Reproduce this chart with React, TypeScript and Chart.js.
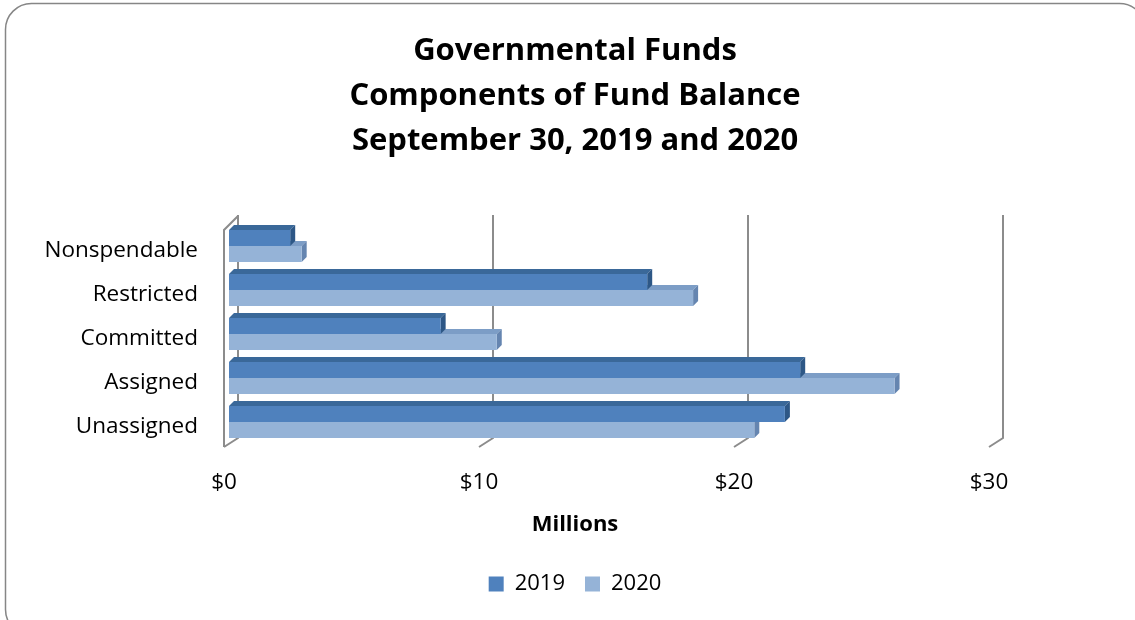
import React, { useEffect, useRef } from "react";
import { Chart, registerables } from "chart.js";

Chart.register(...registerables);

const categories = ["Nonspendable", "Restricted", "Committed", "Assigned", "Unassigned"];
const seriesLabels = ["2019", "2020"];
const values2019 = [2.4, 16.4, 8.3, 22.4, 21.8];
const values2020 = [2.85, 18.2, 10.5, 26.1, 20.6];
const titleLines = ["Governmental Funds", "Components of Fund Balance", "September 30, 2019 and 2020"];
const xTickValues = [0, 10, 20, 30];
const xAxisTitle = "Millions";

const FRONT = ["#4F81BD", "#95B3D7"];
const TOPC = ["#3A6899", "#7C9DC6"];
const SIDE = ["#2D5786", "#6585B0"];
const DX = 5;
const DY = 5;
const FONT = "'Open Sans', sans-serif";

const depthPlugin = {
  id: "depth3d",
  beforeDraw(chart: any) {
    const ctx = chart.ctx;
    ctx.save();
    ctx.fillStyle = "#ffffff";
    ctx.fillRect(0, 0, chart.width, chart.height);
    ctx.beginPath();
    ctx.roundRect(5.5, 3.5, 1140, 632, 26);
    ctx.strokeStyle = "#868686";
    ctx.lineWidth = 1.5;
    ctx.stroke();
    ctx.restore();
  },
  beforeDatasetsDraw(chart: any) {
    const ctx = chart.ctx;
    const { left, top, bottom } = chart.chartArea;
    const xs = chart.scales.x;
    ctx.save();
    ctx.strokeStyle = "#8c8c8c";
    ctx.lineWidth = 2;
    xTickValues.forEach((v) => {
      const px = xs.getPixelForValue(v);
      ctx.beginPath();
      ctx.moveTo(px + 9, top - 9);
      ctx.lineTo(px + 9, bottom - 6);
      ctx.lineTo(px - 5, bottom + 3);
      ctx.stroke();
    });
    ctx.beginPath();
    ctx.moveTo(left + 9, top - 8);
    ctx.lineTo(left - 5, top + 6);
    ctx.lineTo(left - 5, bottom + 3);
    ctx.stroke();

    for (let d = chart.data.datasets.length - 1; d >= 0; d--) {
      const meta = chart.getDatasetMeta(d);
      meta.data.forEach((el: any) => {
        const { x: ex, y, base, height } = el.getProps(["x", "y", "base", "height"], true);
        const t = y - height / 2;
        const b = y + height / 2;
        ctx.fillStyle = TOPC[d];
        ctx.beginPath();
        ctx.moveTo(base, t);
        ctx.lineTo(ex, t);
        ctx.lineTo(ex + DX, t - DY);
        ctx.lineTo(base + DX, t - DY);
        ctx.closePath();
        ctx.fill();
        ctx.fillStyle = SIDE[d];
        ctx.beginPath();
        ctx.moveTo(ex, t);
        ctx.lineTo(ex + DX, t - DY);
        ctx.lineTo(ex + DX, b - DY);
        ctx.lineTo(ex, b);
        ctx.closePath();
        ctx.fill();
      });
    }
    ctx.restore();
  },
};

export default function App() {
  const ref = useRef<HTMLCanvasElement | null>(null);
  useEffect(() => {
    if (!ref.current) return;
    Chart.defaults.font.family = FONT;
    Chart.defaults.color = "#000000";
    const chart = new Chart(ref.current, {
      type: "bar",
      data: {
        labels: categories,
        datasets: [
          { label: seriesLabels[0], data: values2019, backgroundColor: FRONT[0], borderWidth: 0, categoryPercentage: 0.73, barPercentage: 1 },
          { label: seriesLabels[1], data: values2020, backgroundColor: FRONT[1], borderWidth: 0, categoryPercentage: 0.73, barPercentage: 1 },
        ],
      },
      plugins: [depthPlugin],
      options: {
        indexAxis: "y",
        responsive: false,
        animation: false,
        layout: { padding: { left: 15, right: 0, top: 0, bottom: 15 } },
        scales: {
          x: {
            type: "linear",
            min: 0,
            max: 30,
            grid: { display: false, drawTicks: false },
            border: { display: false },
            afterBuildTicks: (s: any) => {
              s.ticks = xTickValues.map((v) => ({ value: v }));
            },
            ticks: {
              padding: 25,
              labelOffset: -5,
              font: { size: 22.5 },
              color: "#000",
              callback: (v: any) => "$" + v,
            },
            afterFit: (s: any) => {
              s.height = 60;
            },
          },
          y: {
            type: "category",
            grid: { display: false, drawTicks: false },
            border: { display: false },
            ticks: { padding: 31, labelOffset: 5, font: { size: 22.5 }, color: "#000" },
            afterFit: (s: any) => {
              s.width = 214;
            },
          },
          y2: {
            type: "category",
            position: "right",
            grid: { display: false, drawTicks: false },
            border: { display: false },
            ticks: { display: false },
            afterFit: (s: any) => {
              s.width = 141;
            },
          },
        },
        plugins: {
          title: {
            display: true,
            text: titleLines,
            font: { size: 31, weight: "bold", lineHeight: 45 / 31 },
            color: "#000",
            padding: { top: 28.5, bottom: 60.5 },
          },
          subtitle: {
            display: true,
            position: "bottom",
            weight: 500,
            text: xAxisTitle,
            font: { size: 22, weight: "bold", lineHeight: 1.2 },
            color: "#000",
            padding: { top: 7.8, bottom: 14.8 },
          },
          legend: {
            position: "bottom",
            labels: { boxWidth: 15, boxHeight: 15, font: { size: 22 }, color: "#000", padding: 20 },
          },
          tooltip: { enabled: false },
        },
      },
    } as any);
    return () => chart.destroy();
  }, []);
  return (
    <div style={{ position: "fixed", left: 0, top: 0, width: 1135, height: 620 }}>
      <canvas ref={ref} width={1135} height={620} />
    </div>
  );
}
